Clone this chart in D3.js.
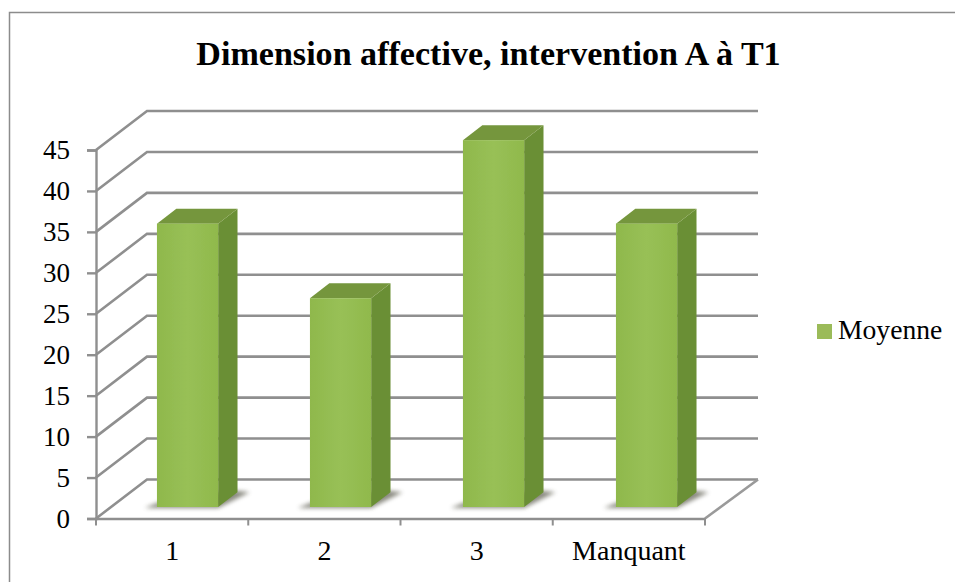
<!DOCTYPE html>
<html>
<head>
<meta charset="utf-8">
<script src="https://cdn.jsdelivr.net/npm/d3@7"></script>
<style>
  html, body { margin: 0; padding: 0; background: #fff; }
  svg { display: block; }
  text { font-family: "Liberation Serif", serif; fill: #000; }
</style>
</head>
<body>
<div id="chart"></div>
<script>
const width = 955;
const height = 582;

const categories = ["1", "2", "3", "Manquant"];
const values = [34.6, 25.5, 44.8, 34.6];
const yTicks = [0, 5, 10, 15, 20, 25, 30, 35, 40, 45];
const seriesName = "Moyenne";
const chartTitle = "Dimension affective, intervention A à T1";

// 3d offset of the back wall compared to the front plane
const wallDx = 51;
const wallDy = -39;
// bars sit part way into the floor
const barFrontShift = 0.295;
const barDepth = 0.38;

const svg = d3.select("#chart")
  .append("svg")
  .attr("width", width)
  .attr("height", height);

const defs = svg.append("defs");

defs.append("filter").attr("id", "soft")
  .append("feGaussianBlur").attr("stdDeviation", 0.5);
defs.append("filter").attr("id", "shadow")
  .attr("x", "-20%").attr("y", "-50%").attr("width", "140%").attr("height", "200%")
  .append("feGaussianBlur").attr("stdDeviation", 2);

const grad = defs.append("linearGradient").attr("id", "front");
grad.append("stop").attr("offset", "0%").attr("stop-color", "#8fb84c");
grad.append("stop").attr("offset", "50%").attr("stop-color", "#98c056");
grad.append("stop").attr("offset", "100%").attr("stop-color", "#90b94c");

const x = d3.scaleBand()
  .domain(categories)
  .range([96, 705])
  .paddingInner(0.6)
  .paddingOuter(0.3);

// the bars are spaced a touch wider than the axis in the picture
const xBar = d3.scaleBand()
  .domain(categories)
  .range([96, 708])
  .paddingInner(0.6)
  .paddingOuter(0.3);

const y = d3.scaleLinear()
  .domain([0, 45])
  .range([518.5, 150]);

// Chart frame, right and bottom edges fall outside the window
svg.append("rect")
  .attr("x", 9.5)
  .attr("y", 12.5)
  .attr("width", 960)
  .attr("height", 600)
  .attr("fill", "#fff")
  .attr("stroke", "#8c8c8c")
  .attr("stroke-width", 1.5);

svg.append("text")
  .attr("x", 488.5)
  .attr("y", 65)
  .attr("text-anchor", "middle")
  .attr("font-size", 34.1)
  .attr("font-weight", "bold")
  .text(chartTitle);

const plot = svg.append("g").attr("filter", "url(#soft)");

// Gridlines run along the side wall then the back wall
const gridLine = d3.line();
plot.selectAll(".grid")
  .data(yTicks)
  .join("path")
  .attr("class", "grid")
  .attr("fill", "none")
  .attr("stroke", "#8f8f8f")
  .attr("stroke-width", 2.6)
  .attr("d", d => gridLine([
    [x.range()[0], y(d)],
    [x.range()[0] + wallDx, y(d) + wallDy],
    [x.range()[1] + wallDx + 2, y(d) + wallDy]
  ]));

// Right edge of the floor
plot.append("path")
  .attr("fill", "none")
  .attr("stroke", "#9a9a9a")
  .attr("stroke-width", 2.6)
  .attr("d", gridLine([
    [x.range()[1], y(0)],
    [x.range()[1] + wallDx + 2, y(0) + wallDy]
  ]));

const yAxis = d3.axisLeft(y).tickValues(yTicks).tickSize(9).tickPadding(17);
const yG = svg.append("g")
  .attr("transform", `translate(${x.range()[0]},0)`)
  .call(yAxis);
yG.selectAll("path, line").attr("stroke", "#8f8f8f").attr("stroke-width", 2.4);
yG.selectAll("text").attr("font-size", 27).attr("font-family", "Liberation Serif");

const xAxis = d3.axisBottom(x).tickSize(0).tickPadding(22);
const xG = svg.append("g")
  .attr("transform", `translate(0,${y(0)})`)
  .call(xAxis);
xG.select(".domain").attr("stroke", "#8f8f8f").attr("stroke-width", 2.6);
xG.selectAll("text").attr("font-size", 28).attr("font-family", "Liberation Serif");

// Tick marks go between the categories, a band axis would centre them
xG.selectAll(".sep")
  .data(d3.range(categories.length + 1))
  .join("line")
  .attr("class", "sep")
  .attr("x1", i => x.range()[0] + i * x.step())
  .attr("x2", i => x.range()[0] + i * x.step())
  .attr("y1", 0)
  .attr("y2", 7)
  .attr("stroke", "#8f8f8f")
  .attr("stroke-width", 2);

// Bar helpers
const baseY = y(0) + wallDy * barFrontShift;
const frontX = c => xBar(c) + wallDx * barFrontShift;
const barY = v => baseY - (y(0) - y(v));
const depthX = wallDx * barDepth;
const depthY = wallDy * barDepth;

// Floor shadows
svg.append("g")
  .selectAll("path")
  .data(categories)
  .join("path")
  .attr("fill", "#77776c")
  .attr("opacity", 0.85)
  .attr("filter", "url(#shadow)")
  .attr("d", c => gridLine([
    [frontX(c) - 12, baseY + 1],
    [frontX(c) + xBar.bandwidth(), baseY + 1],
    [frontX(c) + xBar.bandwidth() + depthX + 12, baseY + depthY],
    [frontX(c) + xBar.bandwidth() + depthX - 6, baseY + depthY - 2],
    [frontX(c), baseY - 4]
  ]) + "Z");

const bars = svg.append("g")
  .attr("filter", "url(#soft)")
  .selectAll("g")
  .data(categories.map((c, i) => ({ c, v: values[i] })))
  .join("g");

// side face
bars.append("path")
  .attr("fill", "#6b8f34")
  .attr("d", d => {
    const r = frontX(d.c) + xBar.bandwidth();
    return gridLine([
      [r, barY(d.v)],
      [r + depthX, barY(d.v) + depthY],
      [r + depthX, baseY + depthY],
      [r, baseY]
    ]) + "Z";
  });

// top face
bars.append("path")
  .attr("fill", "#75963c")
  .attr("d", d => {
    const l = frontX(d.c);
    const r = l + xBar.bandwidth();
    return gridLine([
      [l, barY(d.v)],
      [l + depthX, barY(d.v) + depthY],
      [r + depthX, barY(d.v) + depthY],
      [r, barY(d.v)]
    ]) + "Z";
  });

// front face
bars.append("rect")
  .attr("x", d => frontX(d.c))
  .attr("y", d => barY(d.v))
  .attr("width", xBar.bandwidth())
  .attr("height", d => baseY - barY(d.v))
  .attr("fill", "url(#front)");

// Legend
const legend = svg.append("g")
  .attr("transform", "translate(817,324)");

legend.append("rect")
  .attr("width", 15)
  .attr("height", 15)
  .attr("fill", "#9bbb59");

legend.append("text")
  .attr("x", 21)
  .attr("y", 15)
  .attr("font-size", 27.6)
  .text(seriesName);
</script>
</body>
</html>
